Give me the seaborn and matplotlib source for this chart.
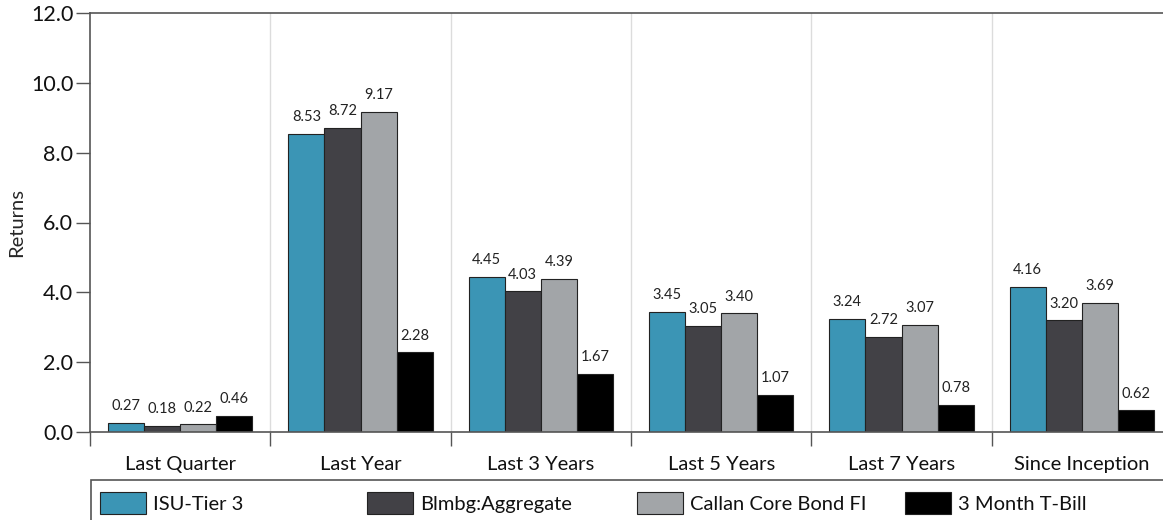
import numpy as np
import pandas as pd
import matplotlib
matplotlib.use("Agg")
import matplotlib.pyplot as plt
import seaborn as sns
from matplotlib.patches import Rectangle
from matplotlib.ticker import FixedLocator, MultipleLocator, FormatStrFormatter

categories = ["Last Quarter", "Last Year", "Last 3 Years", "Last 5 Years",
              "Last 7 Years", "Since Inception"]
series = ["ISU-Tier 3", "Blmbg:Aggregate", "Callan Core Bond FI", "3 Month T-Bill"]
isu_tier3 = [0.27, 8.53, 4.45, 3.45, 3.24, 4.16]
blmbg_aggregate = [0.18, 8.72, 4.03, 3.05, 2.72, 3.20]
callan_core_bond = [0.22, 9.17, 4.39, 3.40, 3.07, 3.69]
tbill_3month = [0.46, 2.28, 1.67, 1.07, 0.78, 0.62]
colors = ["#3b95b5", "#424146", "#a2a5a8", "#000000"]

df = pd.DataFrame({
    "Period": categories * 4,
    "Series": np.repeat(series, len(categories)),
    "Returns": isu_tier3 + blmbg_aggregate + callan_core_bond + tbill_3month,
})

sns.set_theme(style="white")
plt.rcParams["font.family"] = ["Lato", "DejaVu Sans"]

W, H = 1163, 520
fig = plt.figure(figsize=(W / 100, H / 100), dpi=100)
ax = fig.add_axes([90 / W, 1 - 432 / H, 0.9226, (432 - 13) / H])

sns.barplot(data=df, x="Period", y="Returns", hue="Series", order=categories,
            hue_order=series, palette=colors, width=0.8, ax=ax,
            edgecolor="#222222", linewidth=0.8, saturation=1, legend=True)

for cont in ax.containers:
    ax.bar_label(cont, fmt="%.2f", padding=7, fontsize=10.5, color="#222222")

ax.set_ylim(0, 12)
ax.set_xlim(-0.5, 5.45)
ax.yaxis.set_major_locator(MultipleLocator(2))
ax.yaxis.set_major_formatter(FormatStrFormatter("%.1f"))
ax.set_ylabel("Returns", fontsize=14.5, labelpad=4)
ax.set_xlabel("")

# category separators: minor ticks below the axis and light vertical lines
bounds = np.arange(-0.5, 6.0, 1.0)
ax.xaxis.set_minor_locator(FixedLocator(bounds))
ax.tick_params(axis="x", which="major", length=0, pad=17, labelsize=14.5, colors="#111111")
ax.tick_params(axis="x", which="minor", length=10, width=1, color="#555555",
               direction="out", bottom=True)
ax.tick_params(axis="y", which="major", length=10, width=1, color="#555555",
               direction="out", left=True, labelsize=15.5, pad=2, labelcolor="#111111")
for b in bounds[1:]:
    ax.axvline(b, color="#dcdcdc", lw=1.0, zorder=0)

for side in ["left", "bottom", "top"]:
    ax.spines[side].set_visible(True)
    ax.spines[side].set_color("#555555")
    ax.spines[side].set_linewidth(1.2)
ax.spines["right"].set_visible(False)

handles, labels = ax.get_legend_handles_labels()
ax.get_legend().remove()

# legend frame running along the bottom of the figure
fig.patches.append(Rectangle((91 / W, -0.05), 1.0, 0.05 + 1 - 480 / H,
                             transform=fig.transFigure, fill=False,
                             edgecolor="#555555", linewidth=1.2))

fs = 14.5
fs_px = fs * 100 / 72
entry_x = [100, 367, 637, 905]
for h, lab, xp in zip(handles, labels, entry_x):
    lg = fig.legend([h], [lab], loc="center left",
                    bbox_to_anchor=(xp / W, 1 - 503 / H),
                    frameon=False, fontsize=fs, borderpad=0, borderaxespad=0,
                    handlelength=46 / fs_px, handleheight=26 / fs_px,
                    handletextpad=7 / fs_px)
    for t in lg.get_texts():
        t.set_color("#111111")

fig.savefig("out.png", dpi=100)
